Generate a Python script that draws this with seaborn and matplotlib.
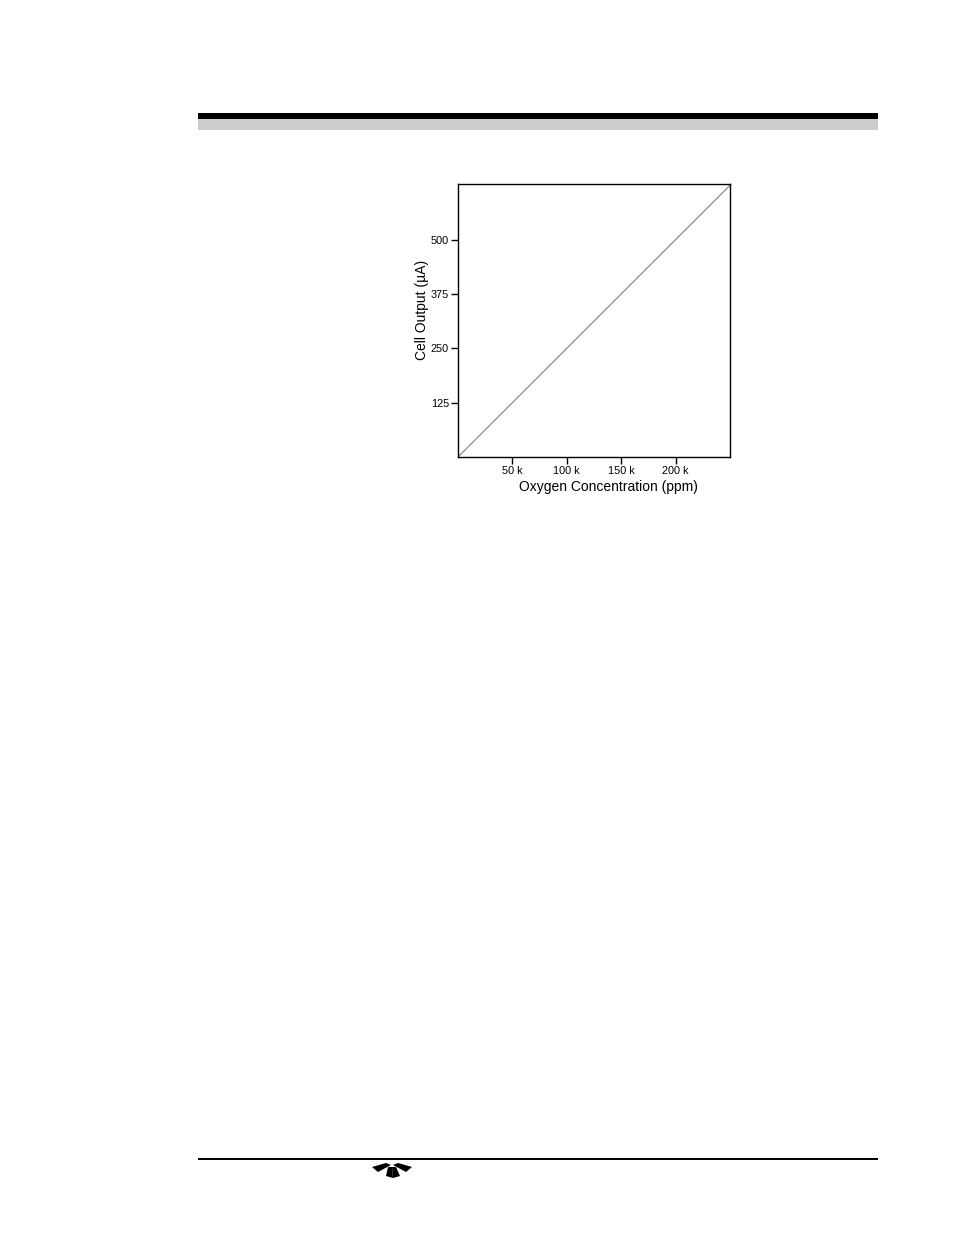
import matplotlib
matplotlib.use("Agg")
import matplotlib.pyplot as plt
import seaborn as sns
import pandas as pd
from matplotlib.patches import Rectangle, Polygon

# Data
oxygen_ppm = [0, 250000]
cell_output_uA = [0, 625]
x_ticks = [50000, 100000, 150000, 200000]
x_tick_labels = ["50 k", "100 k", "150 k", "200 k"]
y_ticks = [125, 250, 375, 500]
y_tick_labels = ["125", "250", "375", "500"]

sns.set_theme(style="white")
plt.rcParams['font.family'] = ['Liberation Sans', 'DejaVu Sans']

W, H = 954, 1235
fig = plt.figure(figsize=(W / 100, H / 100), dpi=100)

def fx(px):
    return px / W

def fy(py):
    return 1 - py / H

# axes box: left 458, right 730, top 184, bottom 457
ax = fig.add_axes([fx(458), fy(457), fx(730) - fx(458), fy(184) - fy(457)])
df = pd.DataFrame({"x": oxygen_ppm, "y": cell_output_uA})
sns.lineplot(data=df, x="x", y="y", ax=ax, color="#8c8c8c", linewidth=0.9)
ax.set_xlim(0, 250000)
ax.set_ylim(0, 628)
ax.set_xticks(x_ticks)
ax.set_xticklabels(x_tick_labels, fontsize=7.8)
ax.set_yticks(y_ticks)
ax.set_yticklabels(y_tick_labels, fontsize=7.8)
ax.tick_params(axis="both", direction="out", length=5, width=1.0, color="black",
               pad=1.5, labelcolor="black", left=True, bottom=True)
for s in ax.spines.values():
    s.set_color("black")
    s.set_linewidth(1.0)
ax.set_xlabel("")
ax.set_ylabel("")

fig.text(fx(608), fy(487), "Oxygen Concentration (ppm)", ha="center", va="center",
         fontsize=10, color="black")
fig.text(fx(422), fy(310), "Cell Output (\u00b5A)", ha="center", va="center",
         rotation=90, fontsize=10, color="black")

# header bars
fig.patches.append(Rectangle((fx(198), fy(119)), fx(878) - fx(198), fy(113) - fy(119),
                             transform=fig.transFigure, facecolor="black", edgecolor="none"))
fig.patches.append(Rectangle((fx(198), fy(130)), fx(878) - fx(198), fy(119) - fy(130),
                             transform=fig.transFigure, facecolor="#cccccc", edgecolor="none"))
# footer line
fig.patches.append(Rectangle((fx(198), fy(1160)), fx(878) - fx(198), fy(1158) - fy(1160),
                             transform=fig.transFigure, facecolor="black", edgecolor="none"))
# small logo
logo_shapes = [
    [(372, 1167), (386, 1163), (391, 1165), (378, 1172)],
    [(412, 1167), (398, 1163), (393, 1165), (406, 1172)],
    [(388, 1167), (392, 1167), (393, 1178), (386, 1176)],
    [(396, 1167), (392, 1167), (393, 1178), (400, 1176)],
]
for shp in logo_shapes:
    fig.patches.append(Polygon([(fx(a), fy(b)) for a, b in shp], closed=True,
                               transform=fig.transFigure, facecolor="black", edgecolor="none"))

fig.savefig("out.png", dpi=100, facecolor="white")
